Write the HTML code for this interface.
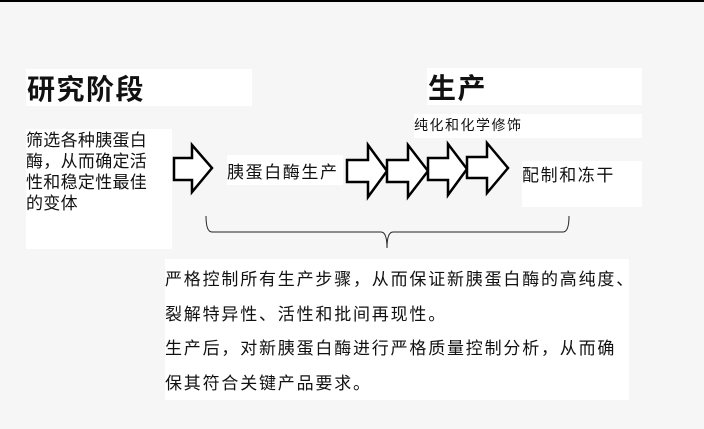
<!DOCTYPE html>
<html><head><meta charset="utf-8"><style>
html,body{margin:0;padding:0}
body{width:704px;height:429px;background:#f6f6f6;position:relative;overflow:hidden;font-family:"Liberation Sans","Noto Sans CJK SC",sans-serif;color:#111}
.b{position:absolute;background:#fff}
.t{position:absolute;white-space:nowrap}
</style></head><body>
<div style="position:absolute;left:0;top:0;width:704px;height:2px;background:#000"></div>
<div class="b" style="left:26px;top:69px;width:226px;height:37px"></div>
<div class="t" style="left:27px;top:68px;font-size:28px;font-weight:bold;letter-spacing:1.5px">研究阶段</div>
<div class="b" style="left:427px;top:68px;width:215px;height:37px"></div>
<div class="t" style="left:428px;top:67px;font-size:28px;font-weight:bold;letter-spacing:1.5px">生产</div>
<div class="b" style="left:414px;top:114px;width:228px;height:24px"></div>
<div class="t" style="left:414px;top:115px;font-size:14px;letter-spacing:1.5px">纯化和化学修饰</div>
<div class="b" style="left:26px;top:129px;width:146px;height:120px"></div>
<div class="t" style="left:26px;top:130px;font-size:17px;line-height:21px;letter-spacing:0.3px">筛选各种胰蛋白<br>酶，从而确定活<br>性和稳定性最佳<br>的变体</div>
<div class="b" style="left:227px;top:155px;width:116px;height:30px"></div>
<div class="t" style="left:227px;top:158px;font-size:17px;letter-spacing:1.6px">胰蛋白酶生产</div>
<div class="b" style="left:522px;top:161px;width:120px;height:46px"></div>
<div class="t" style="left:522px;top:161px;font-size:17px;letter-spacing:1.6px">配制和冻干</div>
<svg width="704" height="429" style="position:absolute;left:0;top:0" fill="#fff" stroke="#000" stroke-width="2.5" stroke-linejoin="miter">
<polygon points="174,158 192,158 192,145 212,168 192,192 192,180 174,180"/>
<polygon points="347,160 368,160 368,145 387,171 368,197 368,182 347,182"/>
<polygon points="387,160 408,160 408,145 428,171 408,197 408,182 387,182"/>
<polygon points="428,158 448,158 448,144 467,169 448,195 448,180 428,180"/>
<polygon points="467,157 487,157 487,143 508,168 487,193 487,178 467,178"/>
<path d="M206,216 Q206,232 212,232 L381,232 Q387,232 387,248 Q387,232 393,232 L563,232 Q569,232 569,216" fill="none" stroke="#222" stroke-width="1"/>
</svg>
<div class="b" style="left:165px;top:259px;width:464px;height:141px"></div>
<div class="t" style="left:165px;top:263px;font-size:17px;line-height:34.5px;letter-spacing:1.8px">严格控制所有生产步骤，从而保证新胰蛋白酶的高纯度、<br>裂解特异性、活性和批间再现性。<br>生产后，对新胰蛋白酶进行严格质量控制分析，从而确<br>保其符合关键产品要求。</div>
</body></html>
